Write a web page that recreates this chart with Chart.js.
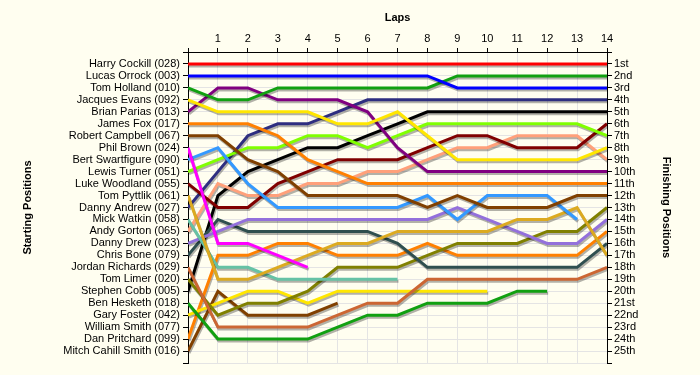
<!DOCTYPE html>
<html>
<head>
<meta charset="utf-8">
<script src="https://cdn.jsdelivr.net/npm/chart.js@4"></script>
<style>
  html, body { margin: 0; padding: 0; background: #fffef0; }
  #wrap { width: 700px; height: 375px; }
</style>
</head>
<body>
<div id="wrap"><canvas id="race-chart" width="700" height="375"></canvas></div>
<script>
// laps (0 = grid)
const laps = [0, 1, 2, 3, 4, 5, 6, 7, 8, 9, 10, 11, 12, 13, 14];

// drivers in starting order
const startNames = [
  'Harry Cockill (028)', 'Lucas Orrock (003)', 'Tom Holland (010)', 'Jacques Evans (092)',
  'Brian Parias (013)', 'James Fox (017)', 'Robert Campbell (067)', 'Phil Brown (024)',
  'Bert Swartfigure (090)', 'Lewis Turner (051)', 'Luke Woodland (055)', 'Tom Pyttlik (061)',
  'Danny Andrew (027)', 'Mick Watkin (058)', 'Andy Gorton (065)', 'Danny Drew (023)',
  'Chris Bone (079)', 'Jordan Richards (029)', 'Tom Limer (020)', 'Stephen Cobb (005)',
  'Ben Hesketh (018)', 'Gary Foster (042)', 'William Smith (077)', 'Dan Pritchard (099)',
  'Mitch Cahill Smith (016)'
];

const finishLabels = [
  '1st', '2nd', '3rd', '4th', '5th', '6th', '7th', '8th', '9th', '10th', '11th', '12th', '13th',
  '14th', '15th', '16th', '17th', '18th', '19th', '20th', '21st', '22nd', '23rd', '24th', '25th'
];

// position of each driver after each lap
const cockill   = [1, 1, 1, 1, 1, 1, 1, 1, 1, 1, 1, 1, 1, 1, 1];
const orrock    = [2, 2, 2, 2, 2, 2, 2, 2, 2, 3, 3, 3, 3, 3, 3];
const holland   = [3, 4, 4, 3, 3, 3, 3, 3, 3, 2, 2, 2, 2, 2, 2];
const evans     = [4, 5, 5, 5, 5, 6, 6, 5, 7, 9, 9, 9, 9, 9, 8];
const parias    = [5, 3, 3, 4, 4, 4, 5, 8, 10, 10, 10, 10, 10, 10, 10];
const fox       = [6, 6, 6, 7, 9, 10, 11, 11, 11, 11, 11, 11, 11, 11, 11];
const campbell  = [7, 7, 9, 10, 12, 12, 12, 12, 13, 12, 13, 13, 13, 12, 12];
const brown     = [8, 16, 16, 17, 18];
const swartfig  = [9, 8, 11, 13, 13, 13, 13, 13, 12, 14, 12, 12, 12, 14];
const turner    = [10, 9, 8, 8, 7, 7, 8, 7, 6, 6, 6, 6, 6, 6, 7];
const woodland  = [11, 13, 13, 11, 10, 9, 9, 9, 8, 7, 7, 8, 8, 8, 6];
const pyttlik   = [12, 19, 19, 18, 17, 16, 16, 15, 15, 15, 15, 14, 14, 13, 17];
const andrew    = [13, 10, 7, 6, 6, 5, 4, 4, 4, 4, 4, 4, 4, 4, 4];
const watkin    = [14, 18, 18, 19, 19, 19, 19, 19];
const gorton    = [15, 11, 12, 12, 11, 11, 10, 10, 9, 8, 8, 7, 7, 7, 9];
const drew      = [16, 15, 14, 14, 14, 14, 14, 14, 14, 13, 14, 15, 16, 16, 14];
const bone      = [17, 14, 15, 15, 15, 15, 15, 16, 18, 18, 18, 18, 18, 18, 16];
const richards  = [18, 23, 23, 23, 23, 22, 21, 21, 19, 19, 19, 19, 19, 19, 18];
const limer     = [19, 22, 21, 21, 20, 18, 18, 18, 17, 16, 16, 16, 15, 15, 13];
const cobb      = [20, 12, 10, 9, 8, 8, 7, 6, 5, 5, 5, 5, 5, 5, 5];
const hesketh   = [21, 24, 24, 24, 24, 23, 22, 22, 21, 21, 21, 20, 20];
const foster    = [22, 21, 20, 20, 21, 20, 20, 20, 20, 20, 20];
const smith     = [];
const pritchard = [24, 17, 17, 16, 16, 17, 17, 17, 16, 17, 17, 17, 17, 17, 15];
const cahill    = [25, 20, 22, 22, 22, 21];

const series = [
  cockill, orrock, holland, evans, parias, fox, campbell, brown, swartfig, turner,
  woodland, pyttlik, andrew, watkin, gorton, drew, bone, richards, limer, cobb,
  hesketh, foster, smith, pritchard, cahill
];

const lineColors = [
  '#ff0000', '#0000ff', '#11a011', '#ffe600', '#800080', '#ff8000', '#804000', '#ff00ff',
  '#3399ff', '#80ff00', '#800000', '#dcaa20', '#2e2e80', '#66c2a5', '#ffa07a', '#9370db',
  '#2f4f4f', '#cc6633', '#808000', '#000000', '#11a011', '#ffe600', '#888888', '#ff8000',
  '#804000'
];

const baseFont = { family: "'Liberation Sans', Arial, sans-serif", size: 11 };
const boldFont = { family: "'Liberation Sans', Arial, sans-serif", size: 11, weight: 'bold' };

const background = {
  id: 'background',
  beforeDraw(chart) {
    const ctx = chart.ctx;
    ctx.save();
    ctx.fillStyle = '#fffef0';
    ctx.fillRect(0, 0, chart.width, chart.height);
    ctx.restore();
  }
};

// drop shadow under each line
const shadow = {
  id: 'shadow',
  beforeDatasetDraw(chart) {
    const ctx = chart.ctx;
    ctx.save();
    ctx.shadowColor = 'rgba(0,0,0,0.3)';
    ctx.shadowOffsetX = 1;
    ctx.shadowOffsetY = 2;
    ctx.shadowBlur = 0;
  },
  afterDatasetDraw(chart) {
    chart.ctx.restore();
  }
};

const datasets = series.map((positions, i) => ({
  label: startNames[i],
  data: positions.map((p, lap) => ({ x: laps[lap], y: p })),
  borderColor: lineColors[i],
  backgroundColor: lineColors[i],
  borderWidth: 3,
  pointRadius: 0,
  tension: 0,
  fill: false
}));

new Chart(document.getElementById('race-chart').getContext('2d'), {
  type: 'line',
  data: { datasets: datasets },
  plugins: [background, shadow],
  options: {
    responsive: false,
    animation: false,
    layout: { padding: { top: 0, left: 0, right: 0, bottom: 12 } },
    plugins: {
      legend: { display: false },
      tooltip: { enabled: false }
    },
    scales: {
      x: {
        type: 'linear',
        position: 'top',
        min: 0,
        max: 14,
        ticks: {
          stepSize: 1,
          autoSkip: false,
          padding: 2,
          color: '#000',
          font: baseFont,
          callback: v => (v === 0 ? '' : v)
        },
        grid: { color: '#e4e4e4', tickColor: '#000', tickLength: 4 },
        border: { color: '#000' },
        title: { display: true, text: 'Laps', color: '#000', font: boldFont, padding: { top: 11, bottom: 0 } },
        afterFit: s => { s.height = 52; }
      },
      y: {
        type: 'linear',
        position: 'left',
        min: 0,
        max: 26,
        reverse: true,
        ticks: {
          stepSize: 1,
          autoSkip: false,
          padding: 3,
          color: '#000',
          font: baseFont,
          callback: v => startNames[v - 1] || ''
        },
        grid: { color: '#e4e4e4', tickColor: '#000', tickLength: 5 },
        border: { color: '#000' },
        title: { display: true, text: 'Starting Positions', color: '#000', font: boldFont, padding: { top: 21, bottom: 0 } },
        afterFit: s => { s.width = 188; }
      },
      y2: {
        type: 'linear',
        position: 'right',
        min: 0,
        max: 26,
        reverse: true,
        ticks: {
          stepSize: 1,
          autoSkip: false,
          padding: 2,
          color: '#000',
          font: baseFont,
          callback: v => finishLabels[v - 1] || ''
        },
        grid: { drawOnChartArea: false, tickColor: '#000', tickLength: 5 },
        border: { color: '#000' },
        title: { display: true, text: 'Finishing Positions', color: '#000', font: boldFont, padding: { top: 27, bottom: 0 } },
        afterFit: s => { s.width = 93; }
      }
    }
  }
});
</script>
</body>
</html>
